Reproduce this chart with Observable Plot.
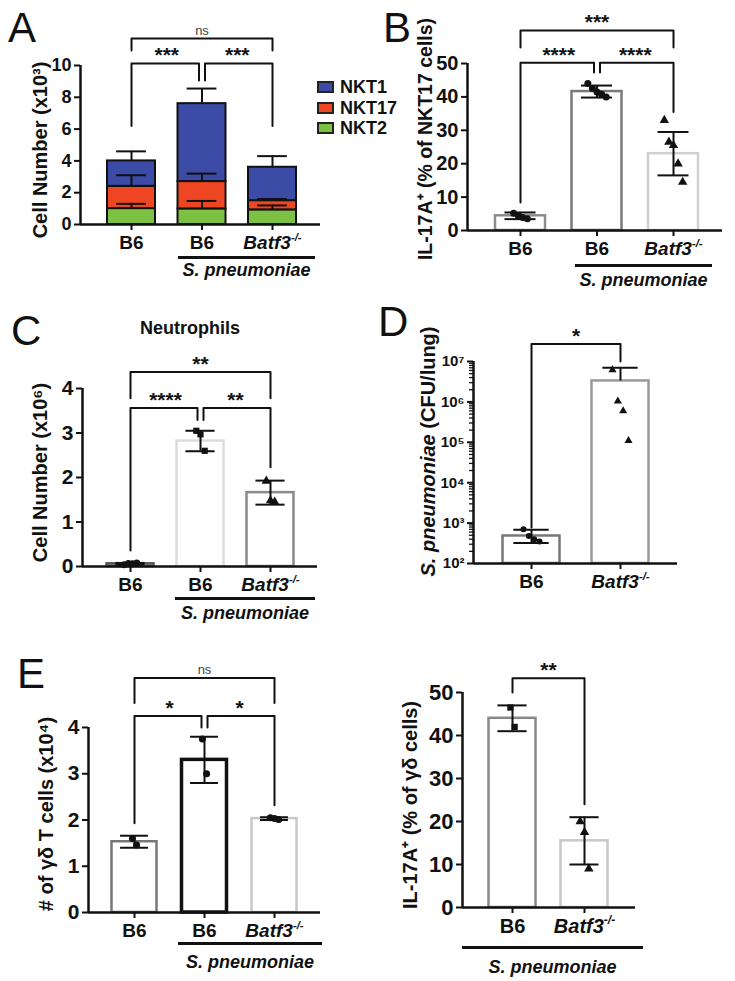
<!DOCTYPE html>
<html><head><meta charset="utf-8">
<script src="https://cdn.jsdelivr.net/npm/d3@7"></script>
<script src="https://cdn.jsdelivr.net/npm/@observablehq/plot@0.6"></script>
<style>
body{margin:0;background:#fff;}
#fig{position:relative;width:735px;height:981px;overflow:hidden;font-family:"Liberation Sans",Arial,Helvetica,sans-serif;color:#111;}
.panel{position:absolute;}
.letter{position:absolute;font-size:42px;line-height:1;font-weight:normal;}
.sp{position:absolute;font-weight:bold;font-style:italic;font-size:18px;line-height:18px;text-align:center;white-space:nowrap;}
.uline{position:absolute;height:3px;background:#111;}
.title{position:absolute;font-weight:bold;font-size:18px;line-height:18px;text-align:center;white-space:nowrap;}
.leg{position:absolute;font-weight:bold;font-size:18px;line-height:18px;white-space:nowrap;}
.sw{position:absolute;width:13px;height:8px;border:2px solid #222;}
</style></head>
<body><div id="fig"></div>
<script>
// ---------------- DATA ----------------
const groups3 = ["B6", "B6", "Batf3-/-"];
const groups2 = ["B6", "Batf3-/-"];

// Panel A: NKT subsets, stacked (cell number x10^3), stacking order bottom -> top
const nktStackOrder = ["NKT2", "NKT17", "NKT1"];
const nktLegendOrder = ["NKT1", "NKT17", "NKT2"];
const nktColors = {NKT1: "#3b4ba6", NKT17: "#ee4623", NKT2: "#7cc143"};
const aNKT2 = [1.0, 0.98, 0.92];
const aNKT17 = [1.4, 1.72, 0.58];
const aNKT1 = [1.6, 4.9, 2.1];
const aNKT2SD = [0.3, 0.5, 0.28];
const aNKT17SD = [0.7, 0.5, 0.1];
const aNKT1SD = [0.6, 0.95, 0.7];

// Panel B: IL-17A+ (% of NKT17 cells)
const bMean = [4.4, 41.6, 23.0];
const bSD = [1.0, 1.8, 6.5];
const bPoints = [[5.2, 4.5, 3.9, 3.5], [44, 42.5, 41.5, 40.8, 40], [33, 26.5, 25.5, 20, 14.5]];

// Panel C: Neutrophils (x10^6)
const cMean = [0.06, 2.82, 1.66];
const cSD = [0.02, 0.23, 0.27];
const cPoints = [[0.04, 0.07, 0.06, 0.08], [3.05, 2.97, 2.6], [1.92, 1.48, 1.45]];

// Panel D: S. pneumoniae CFU/lung (log)
const dMean = [480, 3.3e6];
const dHigh = [680, 7.0e6];
const dLow = [320, null];
const dPoints = [[700, 480, 400, 350], [6.2e6, 1.05e6, 6.0e5, 1.1e5]];

// Panel E left: # of gd T cells (x10^4)
const eMean = [1.53, 3.3, 2.03];
const eSD = [0.13, 0.5, 0.03];
const ePoints = [[1.6, 1.46], [3.75, 3.0], [2.05, 2.03, 2.01]];

// Panel E right: IL-17A+ (% of gd cells)
const fMean = [44, 15.5];
const fSD = [3, 5.5];
const fPoints = [[46.5, 42], [20, 17.5, 9]];

// tick values
const yTicksA = [0, 2, 4, 6, 8, 10];
const yTicksB = [0, 10, 20, 30, 40, 50];
const yTicksC = [0, 1, 2, 3, 4];
const yTicksD = [1e2, 1e3, 1e4, 1e5, 1e6, 1e7];
const yTicksE = [0, 1, 2, 3, 4];
const yTicksF = [0, 10, 20, 30, 40, 50];

// ---------------- HELPERS ----------------
const FONT = "'Liberation Sans', Arial, Helvetica, sans-serif";
const supDigits = "⁰¹²³⁴⁵⁶⁷⁸⁹";
const powFmt = d => "10" + String(Math.round(Math.log10(d))).split("").map(c => supDigits[+c]).join("");
const intFmt = d => String(d);

function simpleBars(means, strokes, sw) {
  return means.map((m, i) => ({i, y1: 0, y2: m, fill: "white", stroke: strokes[i], sw: sw ? sw[i] : 2.5}));
}
function sdErrors(means, sds) {
  return means.map((m, i) => ({i, lo: m - sds[i], hi: m + sds[i], caps: [m - sds[i], m + sds[i]]}));
}
function pointRows(pts, symbols) {
  return pts.flatMap((arr, i) => arr.map((v, k) => ({i, v, symbol: symbols[i], off: (k - (arr.length - 1) / 2) * 0.06})));
}

function buildPanel(cfg) {
  const {width, height, ml, mr, mt, mb, c1, step, hw, labels} = cfg;
  const n = labels.length;
  const xa = -(c1 - ml) / step, xb = (width - mr - c1) / step;
  const h = hw / step, ch = (cfg.capW ?? hw * 0.62) / step, gap = 3 / step;
  const [y0] = cfg.yDomain;
  const marks = [];
  marks.push(Plot.rect(cfg.bars, {x1: d => d.i - h, x2: d => d.i + h, y1: "y1", y2: "y2", fill: "fill", stroke: "stroke", strokeWidth: "sw"}));
  marks.push(Plot.ruleX(cfg.errs, {x: "i", y1: "lo", y2: "hi", stroke: "#111", strokeWidth: 2}));
  const caps = cfg.errs.flatMap(e => e.caps.map(y => ({i: e.i, y})));
  marks.push(Plot.ruleY(caps, {y: "y", x1: d => d.i - ch, x2: d => d.i + ch, stroke: "#111", strokeWidth: 2}));
  const pts = cfg.points || [];
  for (const s of [...new Set(pts.map(p => p.symbol))]) {
    marks.push(Plot.dot(pts.filter(p => p.symbol === s), {x: d => d.i + d.off, y: "v", symbol: s, fill: "#111", stroke: "none", r: cfg.r ?? 3.5}));
  }
  marks.push(Plot.ruleY([y0], {stroke: "#111", strokeWidth: 2.5}));
  marks.push(Plot.ruleX([xa], {stroke: "#111", strokeWidth: 2.5}));
  marks.push(Plot.axisX({ticks: d3.range(n), tickFormat: i => labels[i], tickSize: 6, tickPadding: 5, fontSize: cfg.xFontSize ?? 19, fontWeight: "bold", strokeWidth: 2, label: null}));
  marks.push(Plot.axisY({ticks: cfg.yTicks, tickFormat: cfg.yFormat ?? intFmt, tickSize: 6, tickPadding: 3, fontSize: cfg.yFontSize ?? 19, fontWeight: "bold", strokeWidth: 2, label: null}));
  if (cfg.minorTicks) marks.push(Plot.axisY({ticks: cfg.minorTicks, tickFormat: () => "", tickSize: 4, strokeWidth: 1.3, label: null}));
  // significance brackets
  const bpts = cfg.brackets.flatMap((b, j) => {
    const xA = b.a + (b.ga || 0) * gap, xB = b.b + (b.gb || 0) * gap;
    return [{j, x: xA, y: b.ya}, {j, x: xA, y: b.y}, {j, x: xB, y: b.y}, {j, x: xB, y: b.yb}];
  });
  marks.push(Plot.line(bpts, {x: "x", y: "y", z: "j", stroke: "#111", strokeWidth: 2}));
  marks.push(Plot.text(cfg.brackets.filter(b => b.label !== "ns"), {x: b => (b.a + b.b) / 2, y: "y", text: "label", fontSize: 21, fontWeight: "bold", dy: -8}));
  marks.push(Plot.text(cfg.brackets.filter(b => b.label === "ns"), {x: b => (b.a + b.b) / 2, y: "y", text: "label", fontSize: 13, fill: "#444", dy: -8}));
  marks.push(Plot.text([cfg.yLabel], {text: d => d, frameAnchor: "left", textAnchor: "middle", lineAnchor: "middle", rotate: -90, dx: cfg.ldx, dy: cfg.ldy, fontSize: cfg.lfs ?? 20, fontWeight: "bold"}));
  const svg = Plot.plot({
    width, height, marginLeft: ml, marginRight: mr, marginTop: mt, marginBottom: mb,
    x: {type: "linear", domain: [xa, xb]},
    y: {type: cfg.yType || "linear", domain: cfg.yDomain},
    color: {type: "identity"},
    style: {background: "transparent", overflow: "visible", fontFamily: FONT, color: "#111"},
    marks
  });
  // rich text fixes (italics / superscripts)
  d3.select(svg).selectAll("text").each(function() {
    const s = this.textContent, t = d3.select(this);
    if (s === "Batf3-/-") {
      t.text(null).attr("font-style", "italic");
      t.append("tspan").text("Batf3");
      t.append("tspan").attr("font-size", "0.6em").attr("dy", "-0.7em").text("-/-");
    } else if (s === "S. pneumoniae (CFU/lung)") {
      t.text(null);
      t.append("tspan").attr("font-style", "italic").text("S. pneumoniae");
      t.append("tspan").text(" (CFU/lung)");
    }
  });
  const div = document.createElement("div");
  div.className = "panel";
  div.style.left = cfg.left + "px";
  div.style.top = cfg.top + "px";
  div.appendChild(svg);
  fig.appendChild(div);
}

const fig = document.getElementById("fig");
function addHTML(cls, html, css) {
  const el = document.createElement("div");
  el.className = cls;
  el.innerHTML = html;
  Object.assign(el.style, css);
  fig.appendChild(el);
}

// ---------------- PANEL A ----------------
{
  const segs = {NKT2: aNKT2, NKT17: aNKT17, NKT1: aNKT1};
  const sds = {NKT2: aNKT2SD, NKT17: aNKT17SD, NKT1: aNKT1SD};
  const bars = [], errs = [];
  groups3.forEach((g, i) => {
    let cum = 0;
    for (const s of nktStackOrder) {
      const top = cum + segs[s][i];
      bars.push({i, y1: cum, y2: top, fill: nktColors[s], stroke: "#111", sw: 2});
      errs.push({i, lo: top, hi: top + sds[s][i], caps: [top + sds[s][i]]});
      cum = top;
    }
  });
  buildPanel({
    left: 0, top: 0, width: 370, height: 300, ml: 80, mr: 50, mt: 65, mb: 76,
    c1: 131, step: 70.5, hw: 24, labels: groups3,
    yDomain: [0, 10], yTicks: yTicksA, yFontSize: 18, bars, errs,
    yLabel: "Cell Number (x10³)", ldx: -40, ldy: 5,
    brackets: [
      {a: 0, b: 1, y: 10.13, ya: 6.2, yb: 9.05, gb: -1, label: "***"},
      {a: 1, b: 2, y: 10.13, ya: 9.05, yb: 6.2, ga: 1, label: "***"},
      {a: 0, b: 2, y: 11.7, ya: 10.94, yb: 10.94, label: "ns"}
    ]
  });
}

// ---------------- PANEL B ----------------
buildPanel({
  left: 370, top: 0, width: 365, height: 300, ml: 97, mr: 13, mt: 63, mb: 70,
  c1: 150, step: 76.5, hw: 25, labels: groups3,
  yDomain: [0, 50], yTicks: yTicksB, yFontSize: 20,
  bars: simpleBars(bMean, ["#8c8c8c", "#7a7a7a", "#d0d0d0"]),
  errs: sdErrors(bMean, bSD),
  points: pointRows(bPoints, ["circle", "circle", "triangle"]),
  yLabel: "IL-17A⁺ (% of NKT17 cells)", ldx: -42, ldy: -8, lfs: 19.5,
  brackets: [
    {a: 0, b: 1, y: 50.2, ya: 8.4, yb: 47.3, gb: -1, label: "****"},
    {a: 1, b: 2, y: 50.2, ya: 47.3, yb: 35.5, ga: 1, label: "****"},
    {a: 0, b: 2, y: 59.9, ya: 54.8, yb: 54.8, label: "***"}
  ]
});

// ---------------- PANEL C ----------------
buildPanel({
  left: 0, top: 300, width: 370, height: 320, ml: 82, mr: 53, mt: 88, mb: 54,
  c1: 130, step: 70, hw: 23.5, labels: groups3,
  yDomain: [0, 4], yTicks: yTicksC, yFontSize: 21,
  bars: simpleBars(cMean, ["#555", "#dcdcdc", "#8a8a8a"]),
  errs: sdErrors(cMean, cSD),
  points: pointRows(cPoints, ["circle", "square", "triangle"]),
  yLabel: "Cell Number (x10⁶)", ldx: -42, ldy: -5,
  brackets: [
    {a: 0, b: 1, y: 3.56, ya: 0.36, yb: 3.29, gb: -1, label: "****"},
    {a: 1, b: 2, y: 3.56, ya: 3.29, yb: 2.23, ga: 1, label: "**"},
    {a: 0, b: 2, y: 4.37, ya: 3.78, yb: 3.78, label: "**"}
  ]
});

// ---------------- PANEL D ----------------
{
  const minor = [];
  for (let k = 2; k < 7; k++) for (let m = 2; m <= 9; m++) minor.push(m * 10 ** k);
  buildPanel({
    left: 370, top: 300, width: 365, height: 320, ml: 103, mr: 58, mt: 61, mb: 57,
    c1: 161, step: 89, hw: 28.5, labels: groups2,
    yType: "log", yDomain: [1e2, 1e7], yTicks: yTicksD, yFormat: powFmt, yFontSize: 15, minorTicks: minor,
    bars: dMean.map((m, i) => ({i, y1: 1e2, y2: m, fill: "white", stroke: ["#777", "#9a9a9a"][i], sw: 2.5})),
    errs: dMean.map((m, i) => ({i, lo: dLow[i] ?? m, hi: dHigh[i], caps: dLow[i] ? [dLow[i], dHigh[i]] : [dHigh[i]]})),
    points: pointRows(dPoints, ["circle", "triangle"]),
    r: 3,
    yLabel: "S. pneumoniae (CFU/lung)", ldx: -45, ldy: -11,
    brackets: [
      {a: 0, b: 1, y: 2.7e7, ya: 780, yb: 1e7, label: "*"}
    ]
  });
}

// ---------------- PANEL E (left) ----------------
buildPanel({
  left: 0, top: 620, width: 370, height: 361, ml: 88, mr: 50, mt: 107, mb: 69,
  c1: 134, step: 70, hw: 22.5, labels: groups3,
  yDomain: [0, 4], yTicks: yTicksE, yFontSize: 21,
  bars: simpleBars(eMean, ["#777", "#111", "#c8c8c8"], [2.5, 3.5, 2.5]),
  errs: sdErrors(eMean, eSD),
  points: pointRows(ePoints, ["circle", "circle", "circle"]),
  yLabel: "# of γδ T cells (x10⁴)", ldx: -42, ldy: -6,
  brackets: [
    {a: 0, b: 1, y: 4.25, ya: 1.93, yb: 4.0, gb: -1, label: "*"},
    {a: 1, b: 2, y: 4.25, ya: 4.0, yb: 2.32, ga: 1, label: "*"},
    {a: 0, b: 2, y: 5.07, ya: 4.53, yb: 4.53, label: "ns"}
  ]
});

// ---------------- PANEL E (right) ----------------
buildPanel({
  left: 370, top: 620, width: 365, height: 361, ml: 92, mr: 100, mt: 72, mb: 74,
  c1: 142, step: 72, hw: 23.5, labels: groups2,
  yDomain: [0, 50], yTicks: yTicksF, yFontSize: 22, xFontSize: 20,
  bars: simpleBars(fMean, ["#888", "#c8c8c8"]),
  errs: sdErrors(fMean, fSD),
  points: pointRows(fPoints, ["square", "triangle"]),
  yLabel: "IL-17A⁺ (% of γδ cells)", ldx: -52, ldy: 5,
  brackets: [
    {a: 0, b: 1, y: 53.3, ya: 50, yb: 24, label: "**"}
  ]
});

// ---------------- HTML annotations ----------------
addHTML("letter", "A", {left: "8px", top: "7px"});
addHTML("letter", "B", {left: "383px", top: "7px"});
addHTML("letter", "C", {left: "11px", top: "310px"});
addHTML("letter", "D", {left: "378px", top: "301px"});
addHTML("letter", "E", {left: "17px", top: "653px"});

addHTML("title", "Neutrophils", {left: "130px", width: "120px", top: "319px"});

// legend for panel A
nktLegendOrder.forEach((s, k) => {
  const cy = 87 + k * 20.5;
  addHTML("sw", "", {left: "317px", top: (cy - 6) + "px", background: nktColors[s]});
  addHTML("leg", s, {left: "340px", top: (cy - 9) + "px"});
});

// S. pneumoniae group underlines
[[178, 315, 257, 270], [575, 712, 265, 280], [175, 315, 598, 613], [178, 322, 943, 962], [462, 643, 947, 967]]
  .forEach(([x1, x2, ly, ty]) => {
    addHTML("uline", "", {left: x1 + "px", width: (x2 - x1) + "px", top: (ly - 1.5) + "px"});
    addHTML("sp", "S. pneumoniae", {left: x1 + "px", width: (x2 - x1) + "px", top: (ty - 9) + "px"});
  });
</script>
</body></html>
